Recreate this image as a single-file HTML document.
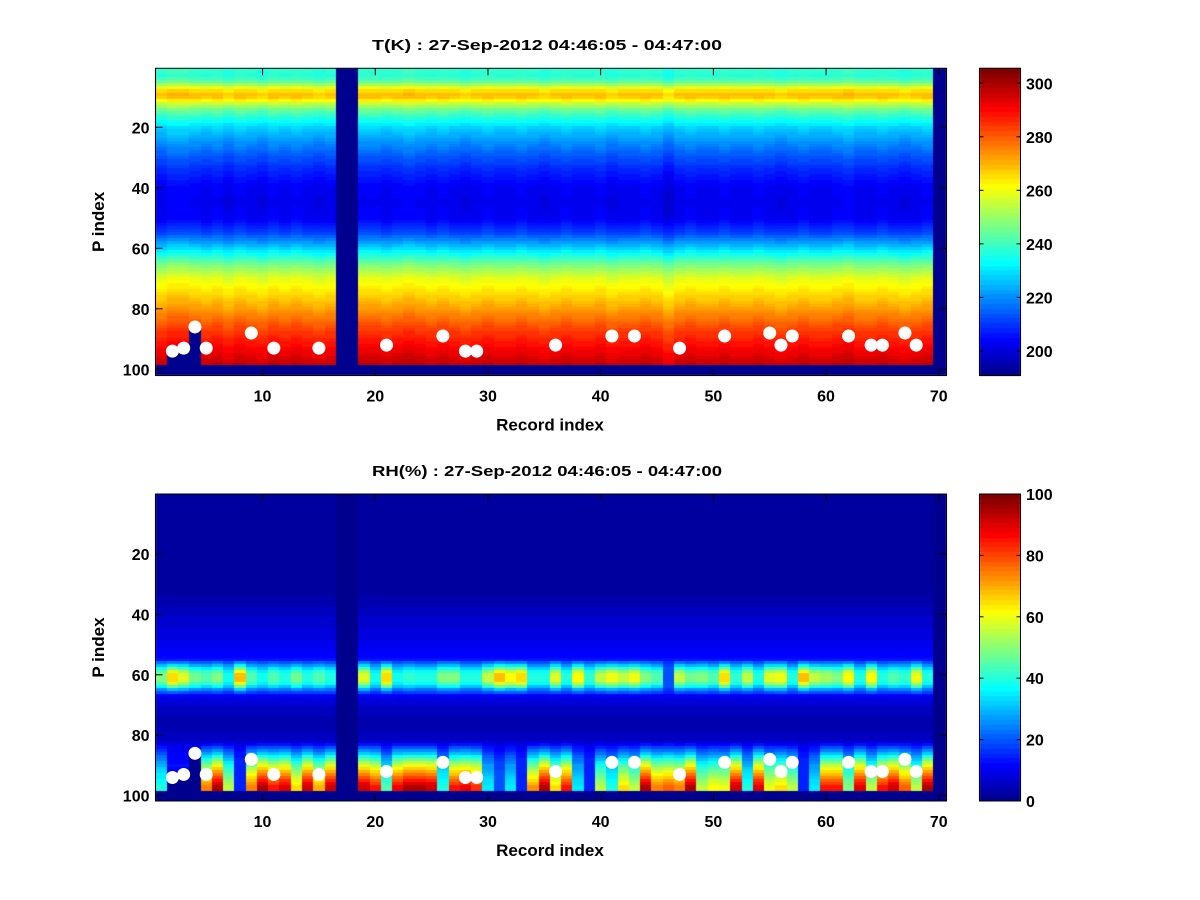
<!DOCTYPE html>
<html><head><meta charset="utf-8">
<style>
html,body{margin:0;padding:0;background:#fff;}
#wrap{position:relative;width:1200px;height:900px;overflow:hidden;background:#fff;font-family:"Liberation Sans",Arial,sans-serif;}
canvas{position:absolute;left:0;top:0;}
svg{position:absolute;left:0;top:0;}
text{font-family:"Liberation Sans",Arial,sans-serif;font-weight:bold;fill:#000;}
</style></head>
<body>
<div id="wrap">
<canvas id="cv" width="1200" height="900"></canvas>
<svg id="sv" width="1200" height="900"></svg>
</div>
<script>
// ---------- data ----------
const records = 70;
const missingCols = [17, 18, 70];
const colBottom = {2: 95, 3: 95, 4: 87};
const defaultBottom = 99;
// Temperature profile (P level -> K)
const tP = [1,3,5,6,7,8,9,10,11,12,14,17,20,25,30,35,40,45,50,55,60,63,66,70,75,80,85,90,95,98];
const tV = [238,237,243,250,258,265,268,267,262,255,245,236,228,220,213,207,203,202,203,212,228,238,248,258,265,272,280,287,293,296];
// per-record temperature anomaly (K)
const tOff = [0,2,2,1,0,1,-1,1,0,-1,1,0,1,0,-1,0,0,0,1,1,0,1,2,1,0,1,0,-1,0,1,0,0,1,0,-1,0,1,0,0,1,-1,0,0,1,0,-3,0,1,0,0,1,0,0,1,0,-1,0,1,0,0,1,2,0,0,1,0,-1,0,1,0];
// RH background profile
const bgP = [1,30,36,42,48,54,58,64,68,72,78,82,86,90,98];
const bgV = [2,2,4,7,9,12,18,18,9,5,4,7,12,16,18];
// mid moist-band shape
const gP = [55,57,59,60,62,63,64,65,67];
const gV = [0,0.4,0.85,1,1,0.85,0.6,0.3,0];
// near-surface shape
const hP = [82,86,89,92,95,97,98];
const hV = [0,0.25,0.5,0.7,0.88,1,1];
// per-record RH values in mid band (P~61)
const rhMid = [50,65,58,48,45,50,38,68,45,38,45,40,48,40,45,40,0,0,58,38,65,38,42,40,40,50,50,40,40,55,68,62,65,40,40,58,40,62,42,55,60,55,60,50,45,20,55,48,50,45,65,42,55,40,58,60,40,68,55,52,50,62,40,62,40,45,42,60,40,0];
// per-record RH near surface (P~97)
const rhLow = [40,10,10,10,75,95,55,15,75,95,85,90,65,92,70,92,0,0,92,85,45,88,95,95,92,40,85,88,82,35,20,35,15,72,95,65,85,35,15,55,40,65,55,95,75,78,75,95,55,62,60,92,40,90,60,65,55,15,35,85,85,50,90,55,85,92,78,55,95,0];
// surface markers: record, P
const dotRec = [2,3,4,5,9,11,15,21,26,28,29,36,41,43,47,51,55,56,57,62,64,65,67,68];
const dotP   = [94,93,86,93,88,93,93,92,89,94,94,92,89,89,93,89,88,92,89,89,92,92,88,92];
const tTicks = [200,220,240,260,280,300];
const rhTicks = [0,20,40,60,80,100];
const xTicks = [10,20,30,40,50,60,70];
const yTicks = [20,40,60,80,100];

// ---------- scales ----------
const X0 = 155.5, XR = 946.5, DX = 11.27;
const xs = v => X0 + (v - 0.5) * DX;
const panels = [
  {name:'t', top:68.3, bot:375.5, y20:127.3, dy:3.025, cmin:190.8, cmax:305.6, cbTicks:tTicks,
   title:'T(K) : 27-Sep-2012 04:46:05 - 04:47:00', titleY:50},
  {name:'rh', top:494, bot:801, y20:554, dy:3.02, cmin:0, cmax:100, cbTicks:rhTicks,
   title:'RH(%) : 27-Sep-2012 04:46:05 - 04:47:00', titleY:476}
];
function interp(P, V, p){
  if(p<=P[0]) return V[0];
  for(let i=1;i<P.length;i++){ if(p<=P[i]){ const f=(p-P[i-1])/(P[i]-P[i-1]); return V[i-1]+f*(V[i]-V[i-1]); } }
  return V[V.length-1];
}
function jet(t){
  t=Math.max(0,Math.min(1,t));
  t=(Math.floor(t*63.999)+1)/64;
  const c=v=>Math.round(255*Math.max(0,Math.min(1,v)));
  return [c(1.5-Math.abs(4*t-3)), c(1.5-Math.abs(4*t-2)), c(1.5-Math.abs(4*t-1))];
}
function tVal(c,p){ return interp(tP,tV,p)+tOff[c-1]; }
function rhVal(c,p){
  const bg=interp(bgP,bgV,p);
  let v=bg+(rhMid[c-1]-bg)*interp(gP,gV,p);
  v=v+(rhLow[c-1]-v)*interp(hP,hV,p);
  return v;
}

const cv=document.getElementById('cv'), ctx=cv.getContext('2d');
const sv=document.getElementById('sv'), NS='http://www.w3.org/2000/svg';
function mk(tag, attrs, parent){ const e=document.createElementNS(NS,tag); for(const k in attrs) e.setAttribute(k,attrs[k]); (parent||sv).appendChild(e); return e; }
const c0=jet(0);
const missColor=`rgb(${c0[0]},${c0[1]},${c0[2]})`;

panels.forEach((pn,pi)=>{
  const ys = p => pn.y20 + (p-20)*pn.dy;
  ctx.fillStyle=missColor;
  ctx.fillRect(X0, pn.top, XR-X0, pn.bot-pn.top);
  for(let c=1;c<=records;c++){
    if(missingCols.includes(c)) continue;
    const bottom = colBottom[c] || defaultBottom;
    const x1=Math.round(xs(c-0.5)), x2=Math.round(xs(c+0.5));
    for(let p=1;p<bottom;p++){
      const v = pn.name==='t' ? tVal(c,p) : rhVal(c,p);
      const col=jet((v-pn.cmin)/(pn.cmax-pn.cmin));
      const y1=Math.round(Math.max(pn.top,ys(p-0.5))), y2=Math.round(ys(p+0.5));
      ctx.fillStyle=`rgb(${col[0]},${col[1]},${col[2]})`;
      ctx.fillRect(x1,y1,x2-x1,y2-y1);
    }
  }
  const cbx=979.5, cbw=41;
  for(let i=0;i<64;i++){
    const y1=pn.bot-(i+1)*(pn.bot-pn.top)/64, y2=pn.bot-i*(pn.bot-pn.top)/64;
    const col=jet(i/63);
    ctx.fillStyle=`rgb(${col[0]},${col[1]},${col[2]})`;
    ctx.fillRect(cbx, Math.floor(y1), cbw, Math.ceil(y2)-Math.floor(y1));
  }
  const g=mk('g',{});
  
  
  for(let i=0;i<dotRec.length;i++){
    const d=mk('circle',{cx:xs(dotRec[i]),cy:ys(dotP[i]),r:6.5,fill:'#fff'},g);
    
    
  }
  const box=mk('rect',{x:X0,y:pn.top,width:XR-X0,height:pn.bot-pn.top,fill:'none',stroke:'#000','stroke-width':1},g);
  
  
  xTicks.forEach(t=>{
    const x=xs(t);
    mk('line',{x1:x,y1:pn.bot,x2:x,y2:pn.bot-7,stroke:'#000'},g);
    mk('line',{x1:x,y1:pn.top,x2:x,y2:pn.top+7,stroke:'#000'},g);
    const tx=mk('text',{x:x,y:pn.bot+26,'text-anchor':'middle','font-size':16},g);
    tx.textContent=t;
    
    
  });
  yTicks.forEach(t=>{
    const y=ys(t);
    mk('line',{x1:X0,y1:y,x2:X0+7,y2:y,stroke:'#000'},g);
    mk('line',{x1:XR,y1:y,x2:XR-7,y2:y,stroke:'#000'},g);
    const tx=mk('text',{x:X0-6,y:y+6,'text-anchor':'end','font-size':16},g);
    tx.textContent=t;
    
    
  });
  const xl=mk('text',{x:550,y:pn.bot+55,'text-anchor':'middle','font-size':17},g);
  xl.textContent='Record index';
  
  
  const cy=(pn.top+pn.bot)/2;
  const yl=mk('text',{x:104,y:cy,'text-anchor':'middle','font-size':17,transform:`rotate(-90 104 ${cy})`},g);
  yl.textContent='P index';
  
  
  const tt=mk('text',{x:547,y:pn.titleY,'text-anchor':'middle','font-size':15,textLength:350,lengthAdjust:'spacingAndGlyphs'},g);
  tt.textContent=pn.title;
  
  
  const cb=mk('rect',{x:cbx,y:pn.top,width:cbw,height:pn.bot-pn.top,fill:'none',stroke:'#000'},g);
  
  
  pn.cbTicks.forEach(t=>{
    const y=pn.bot-(t-pn.cmin)/(pn.cmax-pn.cmin)*(pn.bot-pn.top);
    mk('line',{x1:cbx,y1:y,x2:cbx+4,y2:y,stroke:'#000'},g);
    mk('line',{x1:cbx+cbw,y1:y,x2:cbx+cbw-4,y2:y,stroke:'#000'},g);
    const tx=mk('text',{x:1026,y:y+6,'font-size':16},g);
    tx.textContent=t;
    
    
  });
});
</script>
</body></html>
